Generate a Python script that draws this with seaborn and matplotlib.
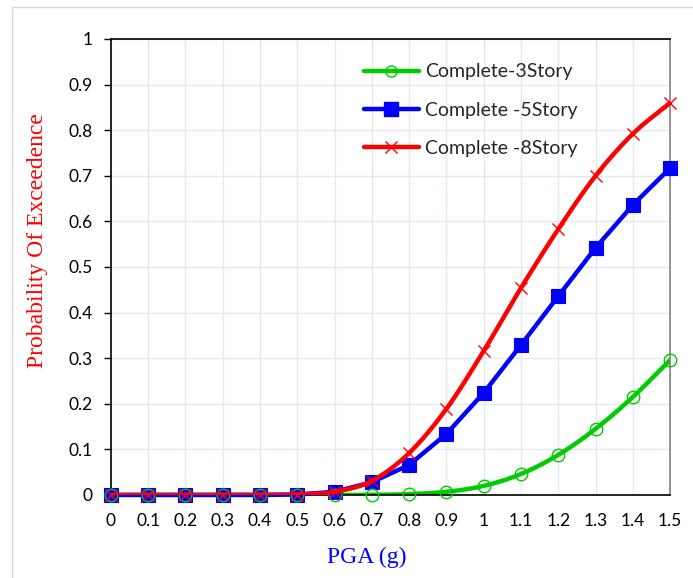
import numpy as np
import pandas as pd
import matplotlib
matplotlib.use("Agg")
import matplotlib.pyplot as plt
import seaborn as sns
from matplotlib.patches import Rectangle
from matplotlib.lines import Line2D

# PGA levels (g)
pga = [0.0, 0.1, 0.2, 0.3, 0.4, 0.5, 0.6, 0.7, 0.8, 0.9, 1.0, 1.1, 1.2, 1.3, 1.4, 1.5]

# Probability of exceedence for the complete damage state
p_3story = [0.0, 0.0, 0.0, 0.0, 0.0, 0.0, 0.0, 0.0005, 0.002, 0.007, 0.020, 0.046, 0.088, 0.145, 0.215, 0.296]
p_5story = [0.0, 0.0, 0.0, 0.0, 0.0, 0.001, 0.007, 0.028, 0.066, 0.134, 0.224, 0.329, 0.436, 0.542, 0.636, 0.717]
p_8story = [0.0, 0.0, 0.0, 0.0, 0.0, 0.001, 0.007, 0.031, 0.092, 0.189, 0.316, 0.454, 0.583, 0.700, 0.792, 0.860]

labels = ["Complete-3Story", "Complete -5Story", "Complete -8Story"]
xticks = [0, 0.1, 0.2, 0.3, 0.4, 0.5, 0.6, 0.7, 0.8, 0.9, 1, 1.1, 1.2, 1.3, 1.4, 1.5]
yticks = [0, 0.1, 0.2, 0.3, 0.4, 0.5, 0.6, 0.7, 0.8, 0.9, 1]


def smooth(x, y, n=20):
    """Catmull-Rom style smoothing through every point."""
    x = np.asarray(x, float)
    y = np.asarray(y, float)
    px = np.concatenate([[2 * x[0] - x[1]], x, [2 * x[-1] - x[-2]]])
    py = np.concatenate([[2 * y[0] - y[1]], y, [2 * y[-1] - y[-2]]])
    xs, ys = [], []
    t = np.linspace(0, 1, n, endpoint=False)

    def cr(a0, a1, a2, a3):
        return 0.5 * ((2 * a1) + (-a0 + a2) * t + (2 * a0 - 5 * a1 + 4 * a2 - a3) * t ** 2
                      + (-a0 + 3 * a1 - 3 * a2 + a3) * t ** 3)

    for i in range(1, len(px) - 2):
        xs.append(cr(px[i - 1], px[i], px[i + 1], px[i + 2]))
        ys.append(cr(py[i - 1], py[i], py[i + 1], py[i + 2]))
    xs.append([x[-1]])
    ys.append([y[-1]])
    return np.concatenate(xs), np.concatenate(ys)


sns.set_theme(style="white")
plt.rcParams["font.family"] = ["Lato", "DejaVu Sans"]

fig = plt.figure(figsize=(6.93, 5.78), dpi=100)
ax = fig.add_axes([0.160, 0.1436, 0.807, 0.789])

fig.patches.append(Rectangle((12 / 693, -0.05), 1.0, 1 - 7 / 578 + 0.05, transform=fig.transFigure,
                             fill=False, edgecolor="#d9d9d9", linewidth=1.0))

green, blue, red = "#00cc00", "#0000ff", "#ff0000"

# 3-storey: smoothed line with hollow circles
sx, sy = smooth(pga, p_3story)
sy = np.clip(sy, 0, None)
sns.lineplot(x=sx, y=sy, ax=ax, color=green, linewidth=3.2, sort=False, estimator=None)
ax.plot(pga, p_3story, linestyle="none", marker="o", markersize=9, markerfacecolor="none",
        markeredgecolor=green, markeredgewidth=1.0, zorder=4, clip_on=False)

# 5-storey: straight segments with filled squares
df5 = pd.DataFrame({"pga": pga, "p": p_5story})
sns.lineplot(data=df5, x="pga", y="p", ax=ax, color=blue, linewidth=3.2, marker="s",
             markersize=10, markeredgecolor=blue, markeredgewidth=0.8, zorder=3, clip_on=False)

# 8-storey: smoothed line with crosses
rx, ry = smooth(pga, p_8story)
ry = np.clip(ry, 0, None)
sns.lineplot(x=rx, y=ry, ax=ax, color=red, linewidth=3.2, sort=False, estimator=None, zorder=5)
ax.plot(pga, p_8story, linestyle="none", marker="x", markersize=9, markeredgecolor=red,
        markeredgewidth=1.0, zorder=6, clip_on=False)

ax.set_xlim(0, 1.5)
ax.set_ylim(0, 1)
ax.set_xticks(xticks)
ax.set_xticklabels([f"{v:g}" for v in xticks])
ax.set_yticks(yticks)
ax.set_yticklabels([f"{v:g}" for v in yticks])
ax.tick_params(axis="both", labelsize=12.5, colors="#000000", length=5, width=1, direction="out",
               pad=8)
ax.tick_params(axis="x", length=0, pad=13)
ax.yaxis.set_ticks_position("left")
ax.grid(True, color="#e3e9f3", linewidth=1.0)
ax.set_axisbelow(True)

for side in ["left", "bottom", "top"]:
    ax.spines[side].set_visible(True)
    ax.spines[side].set_color("#000000")
    ax.spines[side].set_linewidth(1.2)
ax.spines["right"].set_visible(True)
ax.spines["right"].set_color("#808080")
ax.spines["right"].set_linewidth(1.2)
for s in ax.spines.values():
    s.set_zorder(2.5)

ax.set_xlabel("PGA (g)", fontsize=17, color=blue, family="Liberation Serif")
ax.set_ylabel("Probability Of Exceedence", fontsize=17, color=red, family="Liberation Serif")
ax.xaxis.set_label_coords(0.458, -0.114)
ax.yaxis.set_label_coords(-0.112, 0.559)

handles = [
    Line2D([], [], color=green, linewidth=3.2, marker="o", markersize=8, markerfacecolor="none",
           markeredgecolor=green, markeredgewidth=1.0),
    Line2D([], [], color=blue, linewidth=3.2, marker="s", markersize=10),
    Line2D([], [], color=red, linewidth=3.2, marker="x", markersize=9, markeredgewidth=1.0),
]
ax.legend(handles, labels, loc="upper left", bbox_to_anchor=(0.445, 0.955), frameon=False,
          fontsize=14, handlelength=2.85, handletextpad=0.3, labelspacing=1.1,
          borderpad=0.2, borderaxespad=0)

fig.savefig("out.png", dpi=100)
